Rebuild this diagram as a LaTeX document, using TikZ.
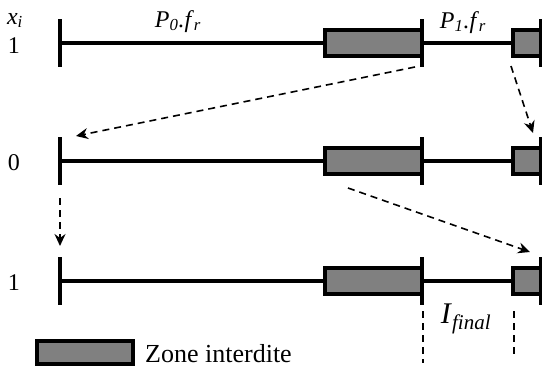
\documentclass[tikz,border=0pt]{standalone}
\usepackage{fontspec}
\setmainfont{Liberation Serif}
\usetikzlibrary{arrows.meta}
\definecolor{zonegray}{HTML}{808080}
\begin{document}
\begin{tikzpicture}[x=1pt,y=-1pt,
  axis/.style={line width=3.5pt},
  tickmark/.style={line width=4pt},
  zone/.style={draw=black, fill=zonegray, line width=3.5pt},
  flow/.style={line width=1.6pt, dash pattern=on 7pt off 5pt,
    -{Stealth[length=12pt,width=11pt,inset=4pt]}},
  guide/.style={line width=1.6pt, dash pattern=on 7pt off 5pt},
  lab/.style={font=\fontsize{24}{24}\selectfont, inner sep=0pt},
  leglab/.style={font=\fontsize{26}{26}\selectfont, inner sep=0pt},
  big/.style={font=\fontsize{30}{30}\selectfont, inner sep=0pt}]
\useasboundingbox (0,0) rectangle (542,367);

% rows
\foreach \yy in {43,161,281}{
  \draw[axis] (60,\yy) -- (541,\yy);
  \draw[zone] (325,\yy-13) rectangle (422,\yy+13);
  \draw[zone] (513,\yy-13) rectangle (545,\yy+13);
  \draw[tickmark] (60,\yy-24) -- (60,\yy+24);
  \draw[tickmark] (422,\yy-24) -- (422,\yy+24);
  \draw[tickmark] (541,\yy-24) -- (541,\yy+24);
}

% labels
\node[lab, anchor=base] (xi) at (15,24) {\textit{x}\textsubscript{\textit{i}}};
\node[lab, anchor=base] (r1) at (14,53) {1};
\node[lab, anchor=base] (r2) at (14,170) {0};
\node[lab, anchor=base] (r3) at (14,290) {1};
\node[lab, anchor=base] (p0) at (178,27) {\textit{P}\textsubscript{\textit{0}}\textit{.f}\textsubscript{\textit{r}}};
\node[lab, anchor=base] (p1) at (463,28) {\textit{P}\textsubscript{\textit{1}}\textit{.f}\textsubscript{\textit{r}}};
\node[big, anchor=base] (ifin) at (466,323) {\textit{I}\textsubscript{\textit{final}}};

% arrows
\coordinate (s1) at (415,67);  \coordinate (e1) at (76,136);
\coordinate (s2) at (511,66);  \coordinate (e2) at (533,133);
\coordinate (s3) at (60,198);  \coordinate (e3) at (60,246);
\coordinate (s4) at (348,188); \coordinate (e4) at (530,252);
\draw[flow] (s1) -- (e1);
\draw[flow] (s2) -- (e2);
\draw[flow] (s3) -- (e3);
\draw[flow] (s4) -- (e4);

% guides
\coordinate (g1) at (423,311); \coordinate (g2) at (423,363);
\coordinate (g3) at (514,311); \coordinate (g4) at (514,355);
\draw[guide] (g1) -- (g2);
\draw[guide] (g3) -- (g4);

% legend
\draw[zone, line width=4pt] (37,341) rectangle (133,364);
\node[leglab, anchor=base west] (leg) at (145,362) {Zone interdite};
\end{tikzpicture}
\end{document}
